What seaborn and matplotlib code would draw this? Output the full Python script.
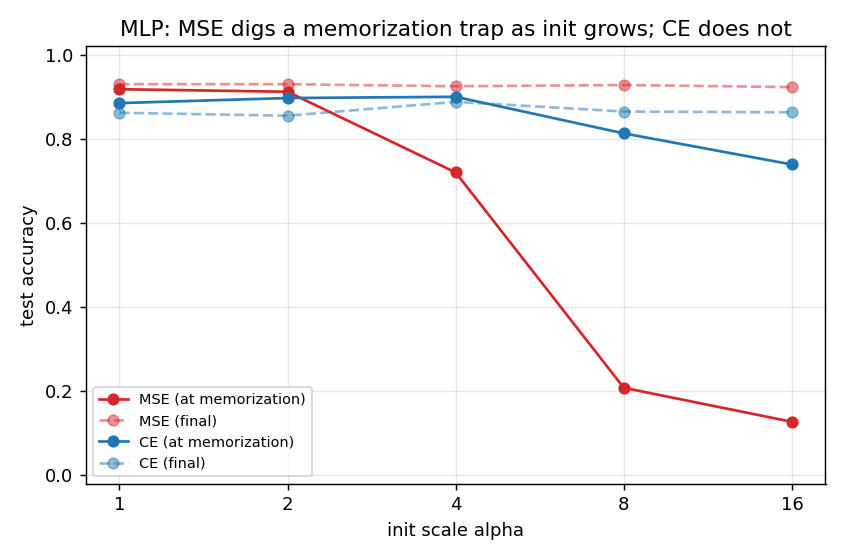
import pandas as pd
import matplotlib
matplotlib.use("Agg")
import matplotlib.pyplot as plt
import seaborn as sns

alphas = [1, 2, 4, 8, 16]
mse_mem = [0.918, 0.912, 0.720, 0.208, 0.127]
mse_final = [0.930, 0.930, 0.925, 0.928, 0.923]
ce_mem = [0.885, 0.897, 0.900, 0.813, 0.739]
ce_final = [0.862, 0.855, 0.888, 0.865, 0.863]

fig, ax = plt.subplots(figsize=(6.5, 4.3), dpi=130)

series = [
    ("MSE (at memorization)", mse_mem, "#d62728", "-", 1.0),
    ("MSE (final)", mse_final, "#d62728", "--", 0.5),
    ("CE (at memorization)", ce_mem, "#1f77b4", "-", 1.0),
    ("CE (final)", ce_final, "#1f77b4", "--", 0.5),
]
for label, vals, color, ls, a in series:
    df = pd.DataFrame({"alpha": alphas, "acc": vals})
    sns.lineplot(data=df, x="alpha", y="acc", ax=ax, color=color, linestyle=ls,
                 marker="o", markersize=6, markeredgecolor=color, alpha=a,
                 label=label, linewidth=1.5)

ax.set_xscale("log", base=2)
ax.set_xticks(alphas)
ax.set_xticklabels([str(a) for a in alphas])
ax.minorticks_off()
ax.set_ylim(-0.02, 1.02)
ax.grid(True, alpha=0.3)
ax.set_xlabel("init scale alpha")
ax.set_ylabel("test accuracy")
ax.set_title("MLP: MSE digs a memorization trap as init grows; CE does not")
ax.legend(loc="lower left", fontsize=8)
fig.tight_layout()
fig.savefig("out.png")
